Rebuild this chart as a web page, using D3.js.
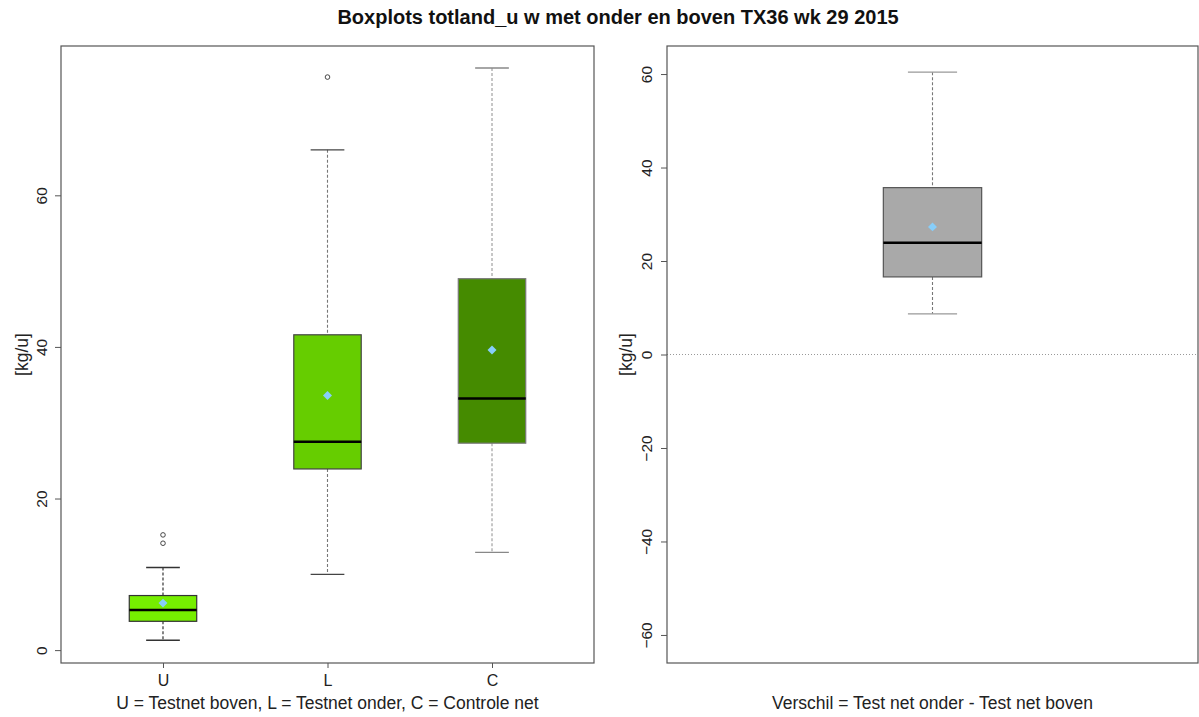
<!DOCTYPE html>
<html>
<head>
<meta charset="utf-8">
<script src="https://cdn.jsdelivr.net/npm/d3@7"></script>
<style>
  html, body { margin: 0; padding: 0; background: #fff; }
  svg { display: block; font-family: "Liberation Sans", Arial, sans-serif; }
</style>
</head>
<body>
<svg id="chart" width="1199" height="717"></svg>
<script>
// ---- data (left panel) ----
const categories = ["U", "L", "C"];
const whiskerLow  = [1.3, 10.0, 12.9];
const q1          = [3.8, 23.9, 27.3];
const medians     = [5.3, 27.5, 33.2];
const q3          = [7.2, 41.6, 49.0];
const whiskerHigh = [10.9, 66.0, 76.8];
const means       = [6.2, 33.6, 39.6];
const outliers    = [[14.1, 15.2], [75.6], []];
const leftTicks   = [0, 20, 40, 60];

// ---- data (right panel) ----
const diffCategory = ["Verschil"];
const diffWhiskerLow  = [8.7];
const diffQ1          = [16.6];
const diffMedian      = [23.9];
const diffQ3          = [35.7];
const diffWhiskerHigh = [60.4];
const diffMean        = [27.3];
const rightTicks = [-60, -40, -20, 0, 20, 40, 60];

// ---- styling ----
const fills = ["#76EE00", "#66CD00", "#458B00"];
const borders = ["#333", "#444", "#777"];
const whiskCols = ["#222", "#777", "#999"];
const capCols = ["#333", "#444", "#888"];

const svg = d3.select("#chart");

svg.append("text")
  .attr("x", 618).attr("y", 24)
  .attr("text-anchor", "middle")
  .attr("font-weight", "bold")
  .attr("font-size", 20)
  .attr("fill", "#111")
  .text("Boxplots totland_u w met onder en boven TX36 wk 29 2015");

function drawBox(g, x, y, cx, halfW, capHalf, lo, a, m, b, hi, mean, fill, border, wc, cc) {
  g.append("line").attr("x1", x(cx)).attr("x2", x(cx))
    .attr("y1", y(hi)).attr("y2", y(b))
    .attr("stroke", wc).attr("stroke-dasharray", "3,2").attr("stroke-width", 1.1);
  g.append("line").attr("x1", x(cx)).attr("x2", x(cx))
    .attr("y1", y(a)).attr("y2", y(lo))
    .attr("stroke", wc).attr("stroke-dasharray", "3,2").attr("stroke-width", 1.1);
  [lo, hi].forEach(v => {
    g.append("line").attr("x1", x(cx - capHalf)).attr("x2", x(cx + capHalf))
      .attr("y1", y(v)).attr("y2", y(v))
      .attr("stroke", cc).attr("stroke-width", 1.3);
  });
  g.append("rect")
    .attr("x", x(cx - halfW)).attr("y", y(b))
    .attr("width", x(cx + halfW) - x(cx - halfW))
    .attr("height", y(a) - y(b))
    .attr("fill", fill).attr("stroke", border).attr("stroke-width", 1.2);
  g.append("line").attr("x1", x(cx - halfW)).attr("x2", x(cx + halfW))
    .attr("y1", y(m)).attr("y2", y(m))
    .attr("stroke", "#000").attr("stroke-width", 2.5);
  g.append("path")
    .attr("transform", `translate(${x(cx)},${y(mean)}) rotate(45)`)
    .attr("d", d3.symbol().type(d3.symbolSquare).size(40)())
    .attr("fill", "#87CEFA");
}

function styleYAxis(yg, shift) {
  yg.select(".domain").remove();
  yg.selectAll(".tick line").attr("stroke", "#555");
  yg.selectAll(".tick text").attr("font-size", 15.5).attr("fill", "#222")
    .attr("font-family", "Liberation Sans, Arial, sans-serif")
    .attr("text-anchor", "middle").attr("x", 0).attr("dy", 0)
    .attr("transform", `translate(${shift},0) rotate(-90)`)
    .attr("dominant-baseline", "middle");
}

// ---- left panel ----
{
  const L = 61, R = 594, T = 46, B = 663;
  const x = d3.scaleLinear().domain([0.38, 3.62]).range([L, R]);
  const y = d3.scaleLinear().domain([-1.7, 79.7]).range([B, T]);
  const g = svg.append("g");

  categories.forEach((c, i) => {
    const cx = i + 1;
    drawBox(g, x, y, cx, 0.205, 0.1025, whiskerLow[i], q1[i], medians[i], q3[i],
      whiskerHigh[i], means[i], fills[i], borders[i], whiskCols[i], capCols[i]);
    outliers[i].forEach(v => {
      g.append("circle").attr("cx", x(cx)).attr("cy", y(v)).attr("r", 2.3)
        .attr("fill", "none").attr("stroke", "#333").attr("stroke-width", 0.9);
    });
  });

  g.append("rect").attr("x", L).attr("y", T).attr("width", R - L).attr("height", B - T)
    .attr("fill", "none").attr("stroke", "#555").attr("stroke-width", 1.2);

  const ya = d3.axisLeft(y).tickValues(leftTicks).tickSize(6).tickFormat(d3.format("d"));
  const yg = g.append("g").attr("transform", `translate(${L},0)`).call(ya);
  styleYAxis(yg, -18);

  const xa = d3.axisBottom(x).tickValues([1, 2, 3]).tickSize(5)
    .tickFormat((d) => categories[d - 1]);
  const xg = g.append("g").attr("transform", `translate(0,${B})`).call(xa);
  xg.select(".domain").remove();
  xg.selectAll(".tick line").attr("stroke", "#555");
  xg.selectAll(".tick text").attr("font-size", 16).attr("fill", "#222")
    .attr("font-family", "Liberation Sans, Arial, sans-serif").attr("dy", "0.95em");

  g.append("text").attr("x", (L + R) / 2).attr("y", 709).attr("text-anchor", "middle")
    .attr("font-size", 17.5).attr("fill", "#222")
    .text("U = Testnet boven, L = Testnet onder, C = Controle net");

  g.append("text").attr("transform", `translate(28,${(T + B) / 2}) rotate(-90)`)
    .attr("text-anchor", "middle").attr("font-size", 17.5).attr("fill", "#222")
    .text("[kg/u]");
}

// ---- right panel ----
{
  const L = 667, R = 1198, T = 46, B = 663;
  const x = d3.scaleLinear().domain([0.46, 1.54]).range([L, R]);
  const y = d3.scaleLinear().domain([-66, 66]).range([B, T]);
  const g = svg.append("g");

  g.append("line").attr("x1", L).attr("x2", R).attr("y1", y(0)).attr("y2", y(0))
    .attr("stroke", "#999").attr("stroke-dasharray", "1,2").attr("stroke-width", 1);

  drawBox(g, x, y, 1, 0.1, 0.05, diffWhiskerLow[0], diffQ1[0], diffMedian[0], diffQ3[0],
    diffWhiskerHigh[0], diffMean[0], "#A9A9A9", "#555", "#777", "#999");

  g.append("rect").attr("x", L).attr("y", T).attr("width", R - L).attr("height", B - T)
    .attr("fill", "none").attr("stroke", "#555").attr("stroke-width", 1.2);

  const ya = d3.axisLeft(y).tickValues(rightTicks).tickSize(6).tickFormat(d3.format("d"));
  const yg = g.append("g").attr("transform", `translate(${L},0)`).call(ya);
  styleYAxis(yg, -19);

  g.append("text").attr("x", (L + R) / 2).attr("y", 709).attr("text-anchor", "middle")
    .attr("font-size", 17.5).attr("fill", "#222")
    .text("Verschil = Test net onder - Test net boven");

  g.append("text").attr("transform", `translate(632,${(T + B) / 2}) rotate(-90)`)
    .attr("text-anchor", "middle").attr("font-size", 17.5).attr("fill", "#222")
    .text("[kg/u]");
}
</script>
</body>
</html>
